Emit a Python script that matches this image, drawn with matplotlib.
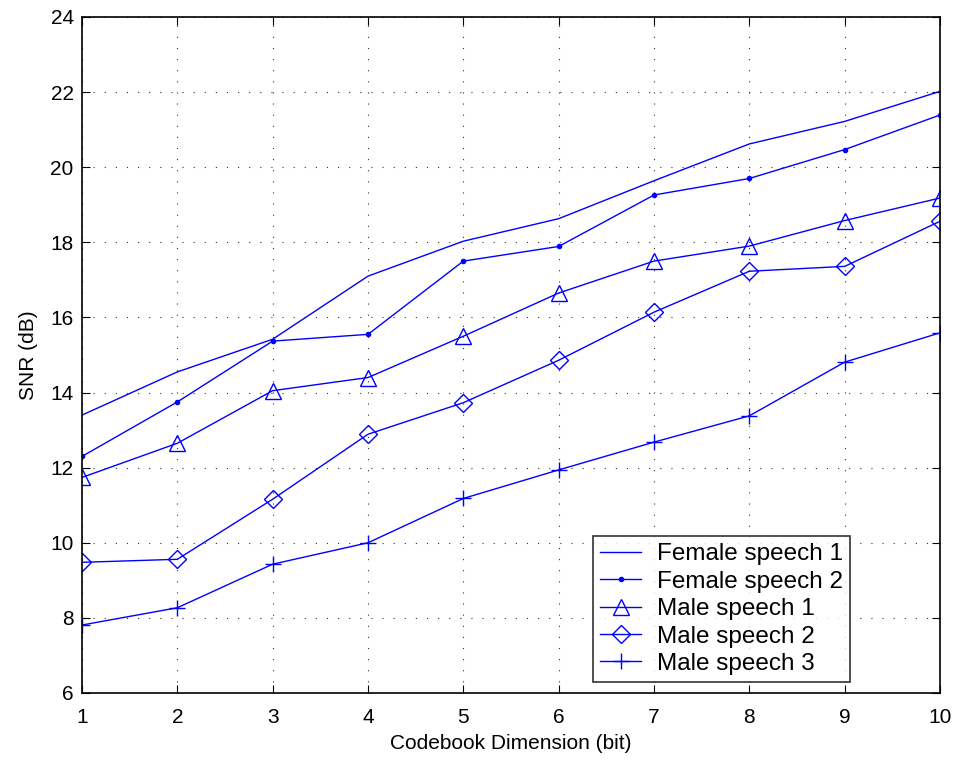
import numpy as np
import matplotlib
matplotlib.use('Agg')
import matplotlib.pyplot as plt

plt.rcParams['font.family'] = ['Liberation Sans', 'DejaVu Sans']

# codebook size in bits and measured SNR per test utterance
bits = [1, 2, 3, 4, 5, 6, 7, 8, 9, 10]
female_1 = [13.4, 14.55, 15.42, 17.1, 18.03, 18.63, 19.64, 20.62, 21.22, 22.02]
female_2 = [12.3, 13.75, 15.37, 15.55, 17.5, 17.89, 19.26, 19.70, 20.47, 21.39]
male_1 = [11.74, 12.65, 14.05, 14.4, 15.5, 16.65, 17.5, 17.9, 18.58, 19.18]
male_2 = [9.48, 9.56, 11.16, 12.89, 13.73, 14.86, 16.14, 17.23, 17.36, 18.56]
male_3 = [7.81, 8.27, 9.43, 10.0, 11.18, 11.94, 12.68, 13.38, 14.81, 15.59]

labels = ['Female speech 1', 'Female speech 2', 'Male speech 1',
          'Male speech 2', 'Male speech 3']

fig = plt.figure(figsize=(9.6, 7.63), dpi=100)
ax = fig.add_axes([82 / 960, 70 / 763, 858 / 960, 676 / 763])

blue = '#0000ff'
ax.plot(bits, female_1, '-', color=blue, lw=1.0, label=labels[0])
ax.plot(bits, female_2, '-', color=blue, lw=1.0, marker='.', ms=6, label=labels[1])
ax.plot(bits, male_1, '-', color=blue, lw=1.0, marker='^', ms=11,
        mfc='none', mew=1.0, label=labels[2])
ax.plot(bits, male_2, '-', color=blue, lw=1.0, marker='D', ms=9,
        mfc='none', mew=1.0, label=labels[3])
ax.plot(bits, male_3, '-', color=blue, lw=1.0, marker='+', ms=12,
        mew=1.0, label=labels[4])

ax.set_xlim(1, 10)
ax.set_ylim(6, 24)
ax.set_xticks(range(1, 11))
ax.set_yticks(range(6, 25, 2))
ax.grid(True, linestyle=(0, (1, 9)), color='#333333', linewidth=0.8)
ax.tick_params(direction='in', top=True, right=True, labelsize=15,
               length=6, width=0.8, pad=6)
ax.tick_params(axis='x', pad=11)
for sp in ax.spines.values():
    sp.set_linewidth(1.2)

ax.set_xlabel('Codebook Dimension (bit)', fontsize=15, labelpad=5)
ax.set_ylabel('SNR (dB)', fontsize=15, labelpad=9)

leg = ax.legend(loc='lower right', bbox_to_anchor=(0.895, 0.016), fontsize=17.5,
                frameon=True, fancybox=False, edgecolor='black', borderpad=0.3,
                labelspacing=0.22, handlelength=1.65, handletextpad=0.66,
                borderaxespad=0)
leg.get_frame().set_linewidth(1.2)

fig.savefig('out.png', dpi=100, facecolor='white')
